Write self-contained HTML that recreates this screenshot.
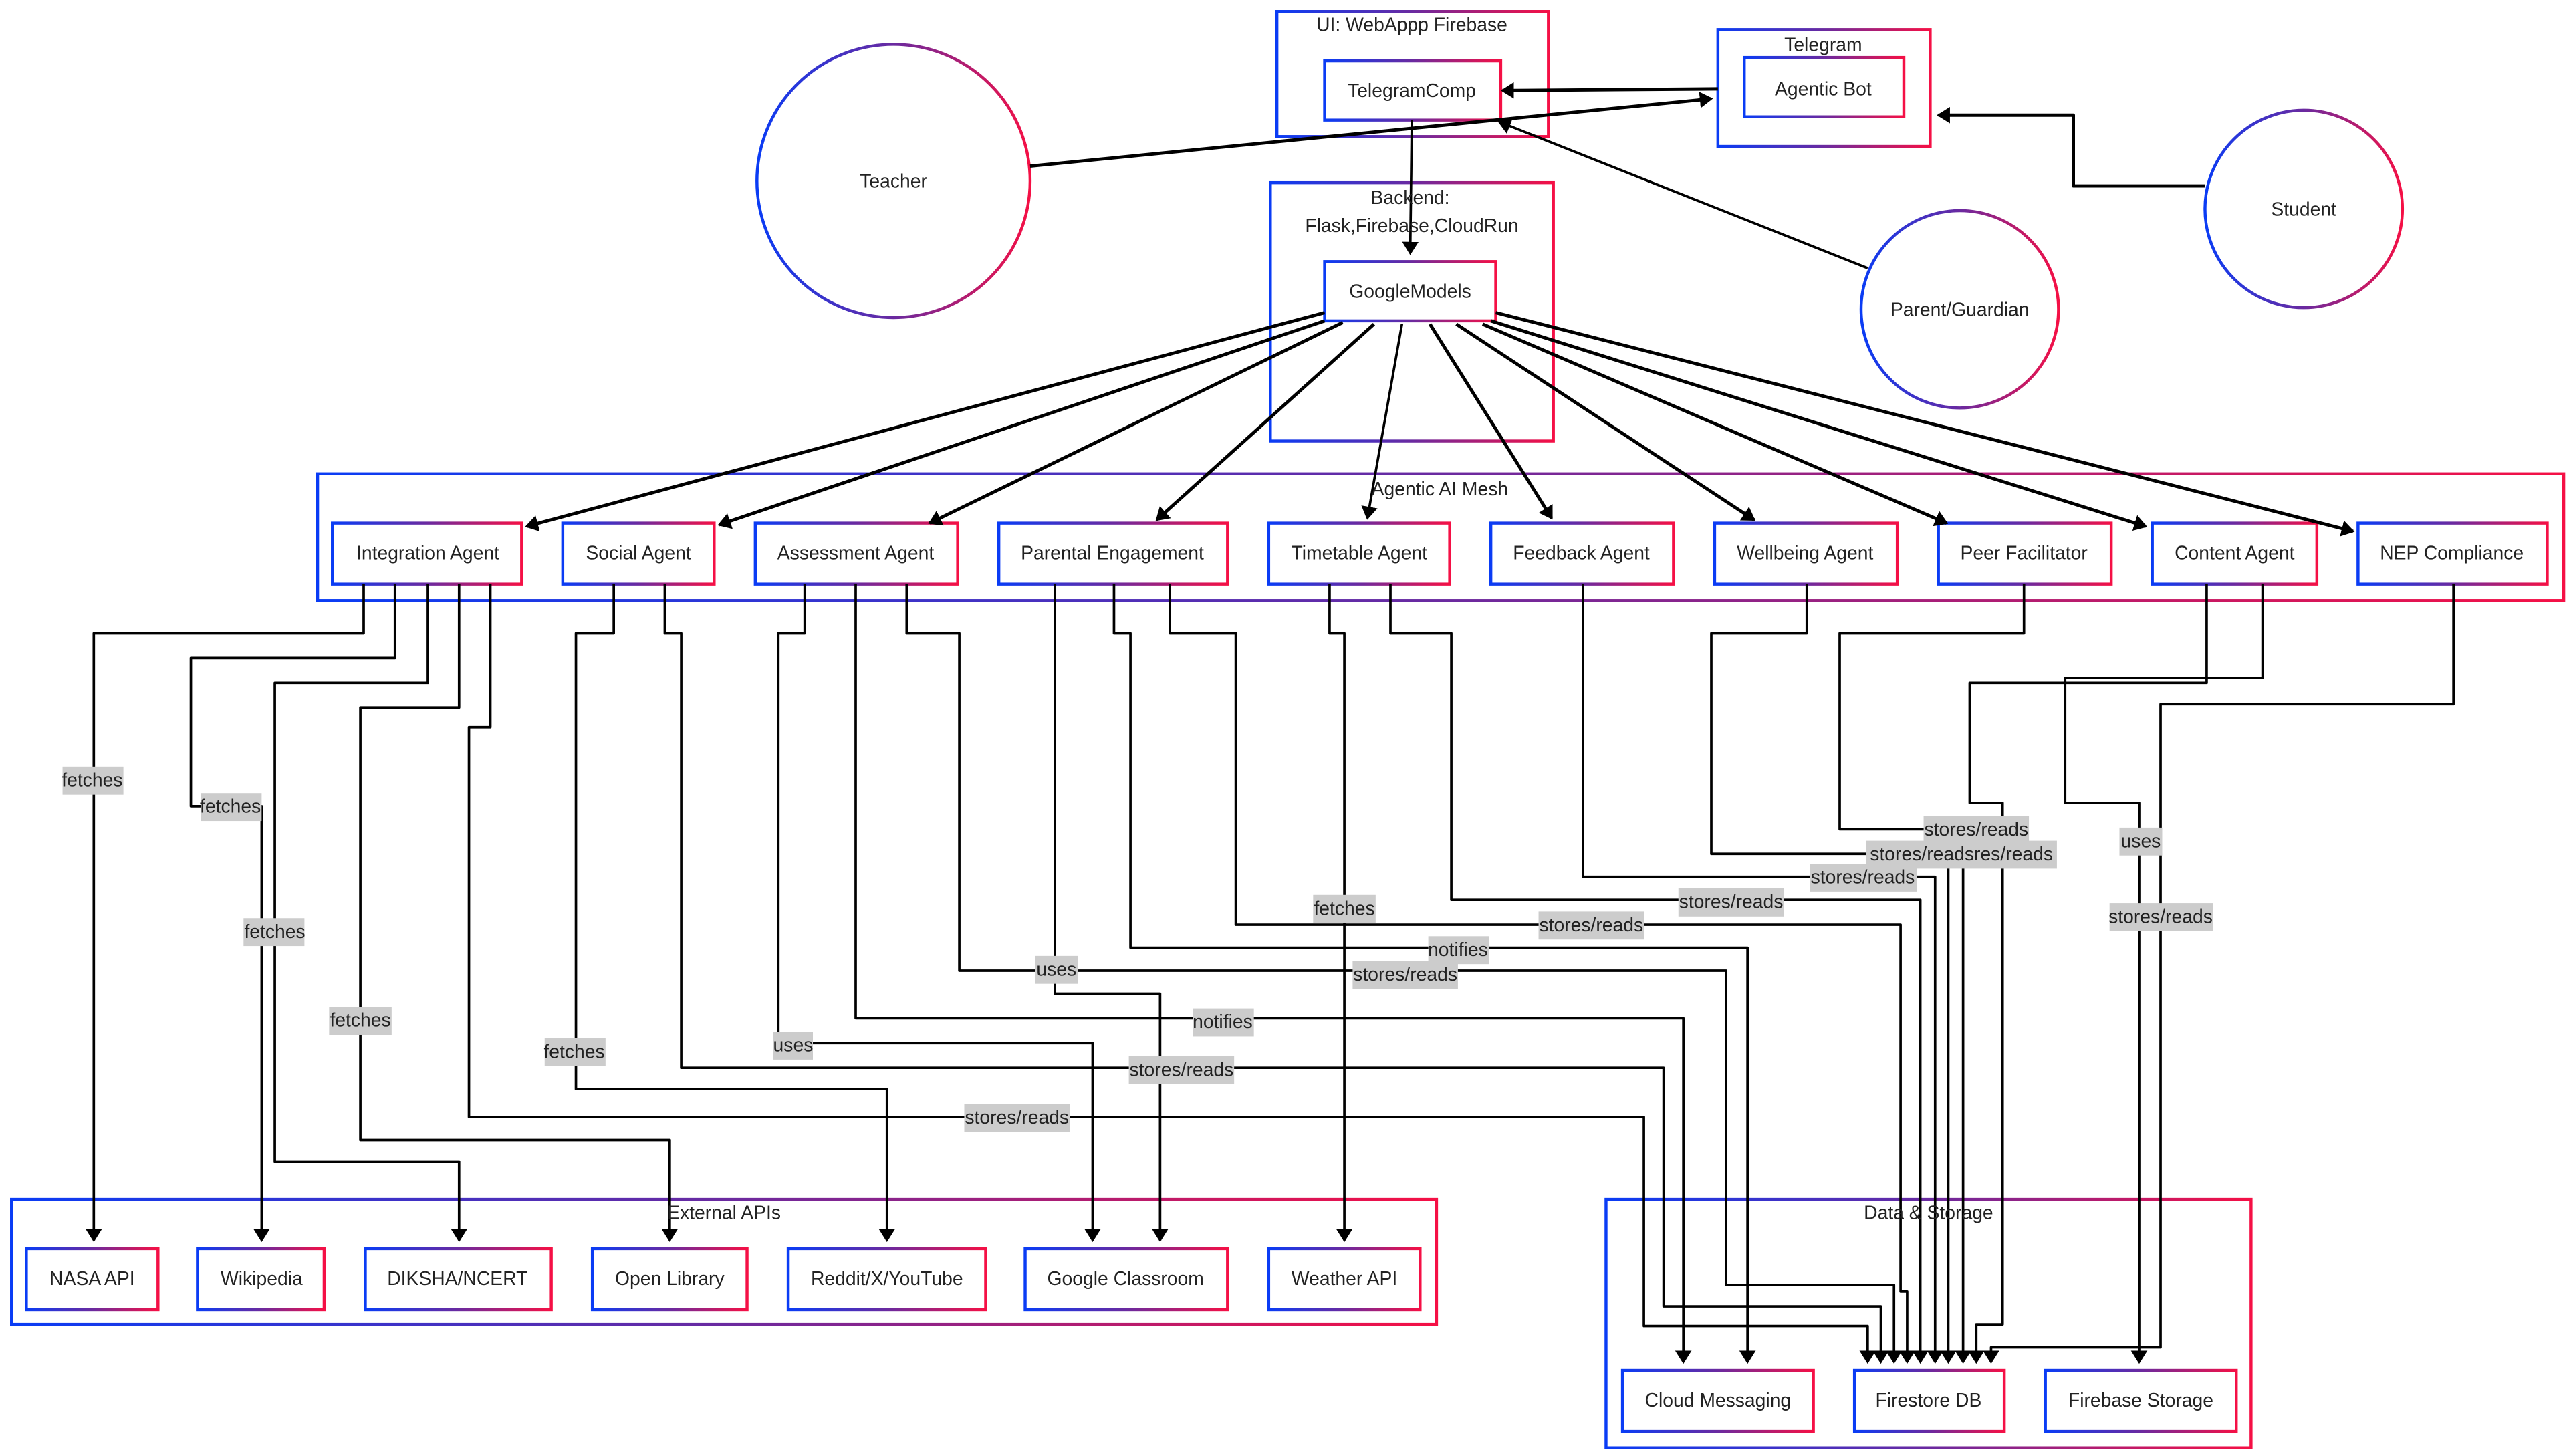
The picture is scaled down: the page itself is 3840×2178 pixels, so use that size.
<!DOCTYPE html>
<html><head><meta charset="utf-8"><style>
html,body{margin:0;padding:0;background:#fff;}
svg{display:block;}
text{font-family:"Liberation Sans",sans-serif;font-size:11.5px;fill:#222;}
</style></head><body>
<svg width="3840" height="2178" viewBox="0 0 1560 885" preserveAspectRatio="none" xmlns="http://www.w3.org/2000/svg">
<defs>
<linearGradient id="g" x1="0" y1="0" x2="1" y2="0" gradientUnits="objectBoundingBox">
<stop offset="0" stop-color="#0a3cf5"/><stop offset="0.5" stop-color="#6a2aa0"/><stop offset="1" stop-color="#f51045"/></linearGradient>
<marker id="a" markerWidth="8" markerHeight="10" refX="7" refY="5" orient="auto" markerUnits="userSpaceOnUse">
<path d="M0,0 L8,5 L0,10 z" fill="#000"/></marker>
</defs>
<g fill="#fff" stroke="url(#g)" stroke-width="1.8">
<rect x="776" y="7" width="165" height="76"/>
<rect x="1044" y="18" width="129" height="71"/>
<rect x="772" y="111" width="172" height="157"/>
<rect x="193" y="288" width="1365" height="77"/>
<rect x="7" y="729" width="866" height="76"/>
<rect x="976" y="729" width="392" height="151"/>
<rect x="805" y="37" width="107" height="36"/>
<rect x="1060" y="35" width="97" height="36"/>
<rect x="805" y="159" width="104" height="36"/>
<circle cx="543" cy="110" r="83"/>
<circle cx="1400" cy="127" r="60"/>
<circle cx="1191" cy="188" r="60"/>
<rect x="202" y="318" width="115" height="37"/>
<rect x="342" y="318" width="92" height="37"/>
<rect x="459" y="318" width="123" height="37"/>
<rect x="607" y="318" width="139" height="37"/>
<rect x="771" y="318" width="110" height="37"/>
<rect x="906" y="318" width="111" height="37"/>
<rect x="1042" y="318" width="111" height="37"/>
<rect x="1178" y="318" width="105" height="37"/>
<rect x="1308" y="318" width="100" height="37"/>
<rect x="1433" y="318" width="115" height="37"/>
<rect x="16" y="759" width="80" height="37"/>
<rect x="120" y="759" width="77" height="37"/>
<rect x="222" y="759" width="113" height="37"/>
<rect x="360" y="759" width="94" height="37"/>
<rect x="479" y="759" width="120" height="37"/>
<rect x="623" y="759" width="123" height="37"/>
<rect x="771" y="759" width="92" height="37"/>
<rect x="986" y="833" width="116" height="37"/>
<rect x="1127" y="833" width="91" height="37"/>
<rect x="1243" y="833" width="116" height="37"/>
</g>
<g fill="none" stroke="#000" stroke-width="2" stroke-linejoin="round" marker-end="url(#a)">
<path d="M858,73 L857,154" stroke-width="1.5"/>
<path d="M1044,54 L913,55"/>
<path d="M626,101 L1040,60"/>
<path d="M1135,163 L911,74" stroke-width="1.5"/>
<path d="M1340,113 H1260 V70 H1178"/>
<path d="M805,190 L320,320"/>
<path d="M805,195 L437,319"/>
<path d="M816,196 L565,318"/>
<path d="M835,197 L703,316"/>
<path d="M852,197 L831,315" stroke-width="1.5"/>
<path d="M869,197 L943,315"/>
<path d="M885,197 L1066,316"/>
<path d="M901,197 L1183,318"/>
<path d="M906,195 L1304,320"/>
<path d="M909,190 L1430,323"/>
<path d="M221,355 V385 H57 V754" stroke-width="1.5"/>
<path d="M240,355 V400 H116 V490 H159 V754" stroke-width="1.5"/>
<path d="M260,355 V415 H167 V706 H279 V754" stroke-width="1.5"/>
<path d="M279,355 V430 H219 V693 H407 V754" stroke-width="1.5"/>
<path d="M298,355 V442 H285 V679 H999 V806 H1135 V828" stroke-width="1.5"/>
<path d="M373,355 V385 H350 V662 H539 V754" stroke-width="1.5"/>
<path d="M404,355 V385 H414 V649 H1011 V794 H1143 V828" stroke-width="1.5"/>
<path d="M489,355 V385 H473 V634 H664 V754" stroke-width="1.5"/>
<path d="M520,355 V619 H1023 V828" stroke-width="1.5"/>
<path d="M551,355 V385 H583 V590 H1049 V781 H1151 V828" stroke-width="1.5"/>
<path d="M641,355 V604 H705 V754" stroke-width="1.5"/>
<path d="M677,355 V385 H687 V576 H1062 V828" stroke-width="1.5"/>
<path d="M711,355 V385 H751 V562 H1155 V785 H1159 V828" stroke-width="1.5"/>
<path d="M808,355 V385 H817 V754" stroke-width="1.5"/>
<path d="M845,355 V385 H882 V547 H1167 V828" stroke-width="1.5"/>
<path d="M962,355 V533 H1176 V828" stroke-width="1.5"/>
<path d="M1098,355 V385 H1040 V519 H1184 V828" stroke-width="1.5"/>
<path d="M1230,355 V385 H1118 V504 H1193 V828" stroke-width="1.5"/>
<path d="M1341,355 V415 H1197 V488 H1217 V805 H1201 V828" stroke-width="1.5"/>
<path d="M1375,355 V412 H1255 V488 H1300 V828" stroke-width="1.5"/>
<path d="M1491,355 V428 H1313 V819 H1210 V828" stroke-width="1.5"/>
</g>
<g fill="#cccccc">
<rect x="38" y="466" width="37" height="17"/>
<rect x="122" y="482" width="37" height="17"/>
<rect x="148" y="558" width="37" height="17"/>
<rect x="200" y="612" width="38" height="17"/>
<rect x="331" y="631" width="37" height="17"/>
<rect x="586" y="671" width="64" height="17"/>
<rect x="686" y="642" width="64" height="17"/>
<rect x="470" y="627" width="24" height="17"/>
<rect x="725" y="613" width="37" height="17"/>
<rect x="629" y="581" width="26" height="17"/>
<rect x="822" y="584" width="64" height="17"/>
<rect x="868" y="569" width="37" height="17"/>
<rect x="935" y="554" width="64" height="17"/>
<rect x="798" y="544" width="38" height="17"/>
<rect x="1020" y="540" width="64" height="17"/>
<rect x="1100" y="525" width="65" height="17"/>
<rect x="1134" y="511" width="116" height="17"/>
<rect x="1169" y="496" width="64" height="17"/>
<rect x="1288" y="503" width="26" height="17"/>
<rect x="1282" y="549" width="63" height="17"/>
</g>
<g text-anchor="middle">
<text x="858" y="19">UI: WebAppp Firebase</text>
<text x="1108" y="31">Telegram</text>
<text x="857" y="124">Backend:</text>
<text x="858" y="141">Flask,Firebase,CloudRun</text>
<text x="875" y="301">Agentic AI Mesh</text>
<text x="440" y="741">External APIs</text>
<text x="1172" y="741">Data &amp; Storage</text>
<text x="858" y="59">TelegramComp</text>
<text x="1108" y="58">Agentic Bot</text>
<text x="857" y="181">GoogleModels</text>
<text x="543" y="114">Teacher</text>
<text x="1400" y="131">Student</text>
<text x="1191" y="192">Parent/Guardian</text>
<text x="260" y="340">Integration Agent</text>
<text x="388" y="340">Social Agent</text>
<text x="520" y="340">Assessment Agent</text>
<text x="676" y="340">Parental Engagement</text>
<text x="826" y="340">Timetable Agent</text>
<text x="961" y="340">Feedback Agent</text>
<text x="1097" y="340">Wellbeing Agent</text>
<text x="1230" y="340">Peer Facilitator</text>
<text x="1358" y="340">Content Agent</text>
<text x="1490" y="340">NEP Compliance</text>
<text x="56" y="781">NASA API</text>
<text x="159" y="781">Wikipedia</text>
<text x="278" y="781">DIKSHA/NCERT</text>
<text x="407" y="781">Open Library</text>
<text x="539" y="781">Reddit/X/YouTube</text>
<text x="684" y="781">Google Classroom</text>
<text x="817" y="781">Weather API</text>
<text x="1044" y="855">Cloud Messaging</text>
<text x="1172" y="855">Firestore DB</text>
<text x="1301" y="855">Firebase Storage</text>
<text x="56" y="478">fetches</text>
<text x="140" y="494">fetches</text>
<text x="167" y="570">fetches</text>
<text x="219" y="624">fetches</text>
<text x="349" y="643">fetches</text>
<text x="618" y="683">stores/reads</text>
<text x="718" y="654">stores/reads</text>
<text x="482" y="639">uses</text>
<text x="743" y="625">notifies</text>
<text x="642" y="593">uses</text>
<text x="854" y="596">stores/reads</text>
<text x="886" y="581">notifies</text>
<text x="967" y="566">stores/reads</text>
<text x="817" y="556">fetches</text>
<text x="1052" y="552">stores/reads</text>
<text x="1132" y="537">stores/reads</text>
<text x="1192" y="523">stores/readsres/reads</text>
<text x="1201" y="508">stores/reads</text>
<text x="1301" y="515">uses</text>
<text x="1313" y="561">stores/reads</text>
</g>
</svg>
</body></html>
